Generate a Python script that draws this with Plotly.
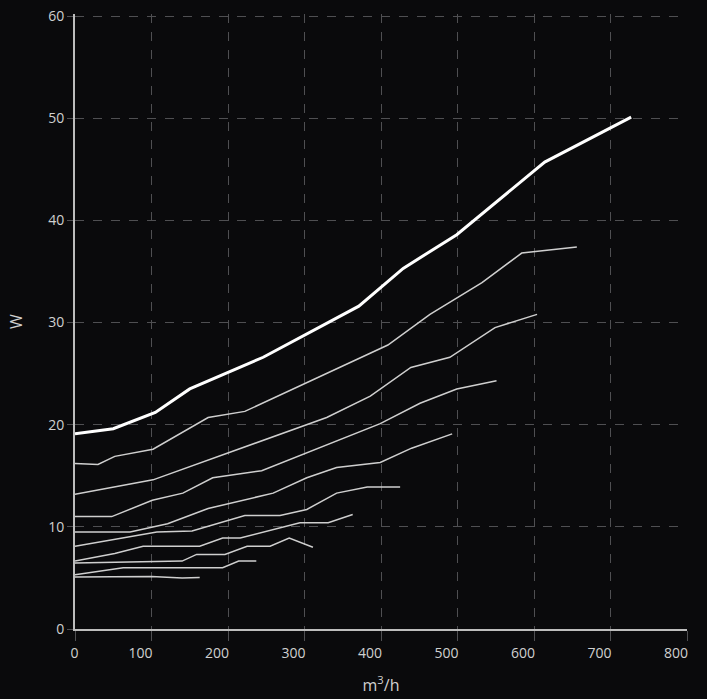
import plotly.graph_objects as go

# Airflow (m3/h) and power (W) for each fan curve, top (max) to bottom
flow_max = [0, 50, 105, 150, 246, 371, 429, 499, 614, 727]
power_max = [19.1, 19.6, 21.2, 23.5, 26.6, 31.6, 35.3, 38.6, 45.7, 50.1]

flow_2 = [0, 30, 52, 102, 174, 222, 409, 464, 532, 584, 656]
power_2 = [16.2, 16.1, 16.9, 17.6, 20.7, 21.3, 27.8, 30.8, 33.9, 36.8, 37.4]

flow_3 = [0, 102, 329, 386, 439, 490, 549, 604]
power_3 = [13.2, 14.6, 20.7, 22.8, 25.6, 26.6, 29.5, 30.8]

flow_4 = [0, 48, 101, 141, 180, 244, 399, 451, 499, 551]
power_4 = [11.0, 11.0, 12.6, 13.3, 14.8, 15.5, 20.1, 22.1, 23.5, 24.3]

flow_5 = [0, 72, 121, 174, 259, 303, 342, 399, 440, 493]
power_5 = [9.5, 9.5, 10.3, 11.8, 13.3, 14.8, 15.8, 16.3, 17.7, 19.1]

flow_6 = [0, 107, 153, 222, 268, 303, 342, 382, 425]
power_6 = [8.1, 9.5, 9.6, 11.1, 11.1, 11.7, 13.3, 13.9, 13.9]

flow_7 = [0, 52, 89, 163, 193, 216, 294, 331, 363]
power_7 = [6.65, 7.4, 8.1, 8.1, 8.9, 8.9, 10.4, 10.4, 11.2]

flow_8 = [0, 140, 159, 196, 225, 255, 280, 311]
power_8 = [6.46, 6.65, 7.3, 7.3, 8.1, 8.1, 8.9, 8.0]

flow_9 = [0, 63, 193, 214, 237]
power_9 = [5.3, 6.0, 6.0, 6.65, 6.65]

flow_10 = [0, 100, 140, 163]
power_10 = [5.1, 5.15, 5.0, 5.05]

x_ticks = [0, 100, 200, 300, 400, 500, 600, 700, 800]
x_tick_labels = ["0", "100", "200", "300", "400", "500", "600", "700", "800"]
y_ticks = [0, 10, 20, 30, 40, 50, 60]

thin_series = [
    (flow_2, power_2), (flow_3, power_3), (flow_4, power_4), (flow_5, power_5),
    (flow_6, power_6), (flow_7, power_7), (flow_8, power_8), (flow_9, power_9),
    (flow_10, power_10),
]

fig = go.Figure()
for fx, py in thin_series:
    fig.add_trace(go.Scatter(x=fx, y=py, mode="lines",
                             line=dict(color="#cfcfcf", width=1.5),
                             showlegend=False, hoverinfo="skip"))
fig.add_trace(go.Scatter(x=flow_max, y=power_max, mode="lines",
                         line=dict(color="#ffffff", width=3),
                         showlegend=False, hoverinfo="skip"))

# labels other than "0" sit slightly left of their grid line in the reference
pad = "\u2002\u2002\u2002"
ticktext = [pad + t if t == "0" else t for t in x_tick_labels]

bg = "#0a0a0c"
grid = "#4f4f52"
axis_col = "#bdbdbd"
font_col = "#d0d0d0"

fig.update_layout(
    width=707, height=699,
    margin=dict(l=75, r=20, t=14, b=70),
    paper_bgcolor=bg, plot_bgcolor=bg,
    font=dict(family="Open Sans, Liberation Sans, sans-serif", size=14, color=font_col),
    xaxis=dict(
        range=[0, 800], tickvals=x_ticks, ticktext=ticktext,
        automargin=False, ticklabeloverflow="allow",
        showgrid=True, gridcolor=grid, griddash="dash", gridwidth=1,
        showline=True, linecolor=axis_col, linewidth=2,
        zeroline=False,
        ticks="outside", ticklen=10, tickcolor=grid, tickwidth=1,
        ticklabelshift=-11,
        tickfont=dict(size=14, color=font_col),
        title=dict(text="m<sup>3</sup>/h", font=dict(size=16, color=font_col), standoff=19),
    ),
    yaxis=dict(
        range=[0, 60.2], tickvals=y_ticks,
        automargin=False, ticklabeloverflow="allow",
        showgrid=True, gridcolor=grid, griddash="dash", gridwidth=1,
        showline=True, linecolor=axis_col, linewidth=2,
        zeroline=False,
        ticks="outside", ticklen=6, tickcolor=grid, tickwidth=1,
        tickfont=dict(size=14, color=font_col),
        title=dict(text="W", font=dict(size=16, color=font_col), standoff=22),
    ),
)

fig.write_html(
    "out.html",
    config={"displayModeBar": False},
    post_script="document.body.style.margin='0';document.body.style.background='#0a0a0c';",
)
